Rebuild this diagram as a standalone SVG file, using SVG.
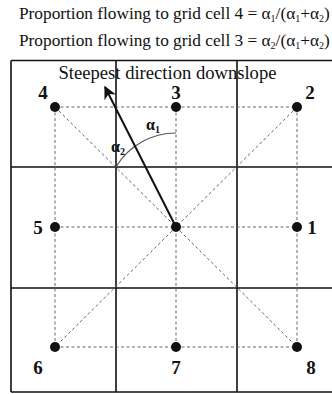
<svg xmlns="http://www.w3.org/2000/svg" width="332" height="394" viewBox="0 0 332 394">
<style>
.t{font-family:"Liberation Serif","Times New Roman",serif;fill:#111}
.n{font-family:"Liberation Serif","Times New Roman",serif;font-weight:bold;font-size:19px;fill:#111;text-anchor:middle}
.g{stroke:#111;stroke-width:1.6;fill:none}
.d{stroke:#666;stroke-width:1;stroke-dasharray:3,2.5;fill:none}
.a{font-family:"Liberation Serif","Times New Roman",serif;font-weight:bold;font-size:16px;fill:#111}
</style>
<defs>
<marker id="ah" viewBox="0 0 10 10" refX="9" refY="5" markerWidth="6.5" markerHeight="6.5" orient="auto" markerUnits="strokeWidth">
<path d="M0,0 L10,5 L0,10 L3,5 z" fill="#111"/>
</marker>
</defs>
<text class="t" x="19" y="19" font-size="17.3">Proportion flowing to grid cell 4 = α<tspan font-size="10" dy="3">1</tspan><tspan dy="-3">/(α</tspan><tspan font-size="10" dy="3">1</tspan><tspan dy="-3">+α</tspan><tspan font-size="10" dy="3">2</tspan><tspan dy="-3">)</tspan></text>
<text class="t" x="19" y="46" font-size="17.3">Proportion flowing to grid cell 3 = α<tspan font-size="10" dy="3">2</tspan><tspan dy="-3">/(α</tspan><tspan font-size="10" dy="3">1</tspan><tspan dy="-3">+α</tspan><tspan font-size="10" dy="3">2</tspan><tspan dy="-3">)</tspan></text>
<g id="grid">
<path class="g" d="M11,60.5 H332 M11,167 H332 M11,288 H332 M11,392 H332 M11,60.5 V392 M116,60.5 V392 M237,60.5 V392"/>
</g>
<g id="connectors">
<path class="d" d="M55,107 H297 M55,227 H297 M55,347 H297 M55,107 V347 M176,107 V347 M297,107 V347 M55,107 L297,347 M297,107 L55,347"/>
<path d="M176,133 A70,70 0 0 0 116,167" stroke="#555" stroke-width="1.2" fill="none"/>
<line x1="176" y1="227" x2="105" y2="87" stroke="#111" stroke-width="2" marker-end="url(#ah)"/>
</g>
<text class="t" x="167.5" y="79" font-size="18.6" text-anchor="middle">Steepest direction downslope</text>
<text class="a" x="146" y="130">α<tspan font-size="10" dy="3">1</tspan></text>
<text class="a" x="111" y="152">α<tspan font-size="10" dy="3">2</tspan></text>
<g id="n4"><circle cx="55" cy="107" r="5" fill="#111"/><text class="n" x="43" y="99">4</text></g>
<g id="n3"><circle cx="176" cy="107" r="5" fill="#111"/><text class="n" x="176" y="99">3</text></g>
<g id="n2"><circle cx="297" cy="107" r="5" fill="#111"/><text class="n" x="310" y="99">2</text></g>
<g id="n5"><circle cx="55" cy="227" r="5" fill="#111"/><text class="n" x="38" y="234">5</text></g>
<g id="n0"><circle cx="176" cy="227" r="5" fill="#111"/></g>
<g id="n1"><circle cx="297" cy="227" r="5" fill="#111"/><text class="n" x="312" y="234">1</text></g>
<g id="n6"><circle cx="55" cy="347" r="5" fill="#111"/><text class="n" x="38" y="374">6</text></g>
<g id="n7"><circle cx="176" cy="347" r="5" fill="#111"/><text class="n" x="176" y="374">7</text></g>
<g id="n8"><circle cx="297" cy="347" r="5" fill="#111"/><text class="n" x="311" y="374">8</text></g>
</svg>
